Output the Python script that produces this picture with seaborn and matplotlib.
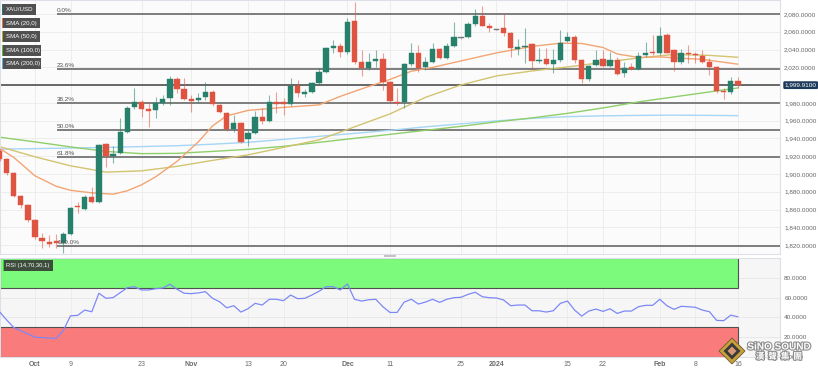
import numpy as np
import pandas as pd
import matplotlib
matplotlib.use("Agg")
import matplotlib.pyplot as plt
import seaborn as sns
from matplotlib.patches import Rectangle, Polygon
import matplotlib.transforms as mtransforms
import matplotlib.patheffects as pe
from matplotlib.ticker import FuncFormatter

sns.set_theme(style="white")
plt.rcParams['font.family'] = ['Liberation Sans', 'DejaVu Sans']

# ---------------- data ----------------
dates = pd.bdate_range("2023-09-25", "2024-02-16")  # 105 weekdays

opens = [1926.3, 1916.7, 1900.9, 1875.4, 1865.0, 1848.5, 1827.9, 1823.7, 1824.1, 1822.9,
         1832.7, 1864.5, 1860.8, 1874.6, 1869.0, 1933.5, 1920.4, 1923.4, 1947.7, 1975.8,
         1981.4, 1973.2, 1972.1, 1980.3, 1985.2, 2006.6, 1995.4, 1984.5, 1983.4, 1986.4,
         1992.7, 1977.7, 1969.1, 1950.4, 1957.8, 1939.2, 1946.6, 1964.6, 1960.1, 1981.1,
         1980.7, 1978.5, 1999.1, 1989.7, 1992.3, 2002.8, 2015.1, 2041.4, 2044.4, 2036.9,
         2072.5, 2026.4, 2019.6, 2027.2, 2029.1, 2003.9, 1981.4, 1980.7, 2023.8, 2036.5,
         2020.8, 2026.4, 2040.3, 2030.2, 2044.4, 2053.0, 2054.5, 2068.8, 2078.1, 2066.9,
         2062.5, 2063.9, 2058.3, 2041.0, 2042.9, 2045.9, 2026.8, 2029.1, 2024.2, 2028.0,
         2049.7, 2054.5, 2028.3, 2006.6, 2022.3, 2029.8, 2021.6, 2028.3, 2013.4, 2020.1,
         2018.5, 2033.6, 2036.9, 2035.8, 2056.4, 2039.5, 2025.7, 2036.5, 2035.4, 2033.1,
         2025.7, 2020.8, 1993.5, 1992.0, 2004.7]
highs = [1929.4, 1918.2, 1902.0, 1876.6, 1866.4, 1849.6, 1833.5, 1831.6, 1832.4, 1835.3,
         1863.4, 1869.0, 1876.6, 1885.9, 1934.0, 1935.3, 1931.6, 1962.8, 1977.0, 1996.5,
         1983.0, 1981.4, 1987.1, 1989.0, 2010.3, 2009.5, 2007.7, 1989.0, 1990.9, 2003.9,
         1994.0, 1979.0, 1970.0, 1966.5, 1959.0, 1949.6, 1971.3, 1974.0, 1989.0, 1992.7,
         1985.2, 2007.7, 2005.8, 1995.7, 2004.0, 2019.0, 2043.0, 2050.8, 2047.1, 2075.2,
         2094.0, 2039.5, 2035.8, 2039.5, 2035.8, 2005.0, 1996.5, 2025.0, 2047.7, 2045.2,
         2032.0, 2047.1, 2042.0, 2047.1, 2070.7, 2054.0, 2071.4, 2085.3, 2089.3, 2069.5,
         2063.5, 2080.0, 2060.0, 2051.6, 2063.9, 2047.0, 2041.4, 2041.4, 2040.3, 2062.0,
         2060.1, 2056.0, 2029.0, 2023.0, 2039.5, 2039.5, 2037.6, 2032.0, 2026.4, 2025.3,
         2037.6, 2048.9, 2056.4, 2065.7, 2058.3, 2041.0, 2040.3, 2045.2, 2037.0, 2039.5,
         2030.2, 2022.0, 1997.2, 2008.9, 2008.9]
lows = [1914.8, 1899.0, 1874.0, 1861.9, 1846.2, 1827.1, 1816.6, 1818.4, 1817.3, 1811.0,
        1831.0, 1856.0, 1859.0, 1867.0, 1867.0, 1908.4, 1912.9, 1922.0, 1946.0, 1973.0,
        1964.6, 1953.3, 1962.8, 1978.0, 1977.7, 1990.9, 1983.4, 1970.2, 1979.6, 1983.4,
        1977.0, 1968.4, 1948.0, 1947.7, 1935.3, 1932.0, 1945.0, 1956.4, 1958.0, 1968.4,
        1966.5, 1977.0, 1987.1, 1986.7, 1991.0, 2001.0, 2014.0, 2035.8, 2032.0, 2035.0,
        2023.8, 2010.3, 2017.1, 2020.8, 1994.6, 1979.6, 1977.7, 1974.0, 2022.0, 2015.1,
        2017.1, 2025.0, 2029.0, 2029.0, 2043.0, 2052.0, 2053.0, 2067.0, 2066.0, 2060.1,
        2061.5, 2055.3, 2032.0, 2033.9, 2025.3, 2018.2, 2024.6, 2022.7, 2014.0, 2026.0,
        2048.0, 2024.6, 2002.1, 2005.0, 2021.0, 2020.8, 2020.0, 2011.4, 2009.5, 2017.1,
        2017.0, 2032.0, 2033.9, 2034.0, 2035.8, 2016.3, 2024.0, 2024.6, 2024.6, 2024.6,
        2011.4, 1990.9, 1984.5, 1990.0, 1996.5]
closes = [1916.7, 1900.9, 1875.4, 1865.0, 1848.5, 1828.6, 1824.1, 1821.8, 1822.3, 1832.7,
          1861.6, 1862.7, 1874.6, 1869.0, 1932.8, 1920.4, 1922.6, 1947.7, 1974.7, 1981.4,
          1973.2, 1971.3, 1979.6, 1984.8, 2006.6, 1995.4, 1984.5, 1982.6, 1985.9, 1992.7,
          1978.5, 1969.5, 1950.4, 1957.8, 1936.5, 1946.6, 1964.6, 1960.1, 1980.7, 1978.8,
          1978.5, 1999.1, 1990.9, 1992.3, 2002.8, 2015.1, 2041.4, 2044.4, 2036.9, 2070.7,
          2026.4, 2019.6, 2026.4, 2029.1, 2003.9, 1982.2, 1980.0, 2023.8, 2036.5, 2019.0,
          2026.4, 2040.3, 2030.2, 2044.4, 2053.8, 2053.0, 2068.8, 2078.1, 2066.9, 2063.9,
          2062.5, 2058.3, 2041.4, 2043.2, 2044.0, 2027.5, 2028.3, 2024.2, 2028.0, 2047.7,
          2054.5, 2028.3, 2006.6, 2021.9, 2028.0, 2021.6, 2028.3, 2012.6, 2019.6, 2018.5,
          2032.8, 2036.5, 2035.8, 2055.3, 2036.5, 2025.7, 2035.8, 2034.7, 2033.9, 2025.7,
          2020.8, 1993.5, 1992.0, 2004.7, 1999.91]

rsi = [45.7, 37.5, 29.8, 26.5, 23.2, 20.0, 19.6, 19.2, 18.7, 27.0,
       41.6, 42.0, 47.4, 45.7, 64.4, 59.3, 60.0, 65.0, 70.0, 71.0,
       67.7, 67.7, 69.0, 69.7, 73.5, 68.4, 64.4, 64.0, 64.7, 66.0,
       59.3, 55.8, 49.7, 51.8, 45.4, 48.7, 54.2, 52.5, 58.3, 58.3,
       56.9, 62.6, 58.9, 59.3, 62.6, 66.4, 71.0, 71.0, 67.7, 73.8,
       58.3, 56.5, 57.8, 58.3, 50.8, 45.0, 45.0, 55.5, 58.3, 53.5,
       55.5, 58.3, 55.2, 58.3, 59.9, 60.3, 63.3, 65.4, 60.9, 59.9,
       59.6, 57.6, 51.8, 52.5, 52.5, 46.7, 46.7, 45.4, 46.7, 54.2,
       56.5, 47.4, 41.3, 46.4, 48.4, 46.1, 48.7, 44.0, 46.4, 46.4,
       50.8, 52.2, 52.2, 58.3, 51.8, 48.1, 51.2, 50.8, 50.2, 47.4,
       45.7, 37.0, 36.7, 42.3, 40.6]

# moving averages (bar number -> value)
sma20_bar = [0, 2, 5, 8, 10, 13, 16, 18, 20, 22, 25, 28, 30, 32, 35, 40, 45, 48, 51, 55,
             58, 61, 65, 70, 75, 79, 82, 85, 87, 90, 93, 96, 99, 102, 104]
sma20_val = [1928.8, 1918.7, 1897.9, 1886.1, 1881.6, 1878.8, 1877.3, 1881.1, 1887.8, 1896.8,
             1914.2, 1936.1, 1954.1, 1965.4, 1971.5, 1974.9, 1977.7, 1987.3, 1995.7, 2006.4,
             2015.6, 2019.9, 2027.2, 2036.2, 2043.5, 2047.1, 2046.8, 2042.3, 2035.0, 2031.1,
             2031.7, 2030.2, 2028.9, 2025.7, 2023.5]
sma_bar = [0, 5, 10, 15, 20, 25, 30, 35, 40, 45, 50, 55, 60, 65, 70, 75, 80, 85, 90, 95, 100, 104]
sma50_val = [1930.8, 1919.3, 1909.2, 1902.1, 1903.5, 1908.6, 1915.3, 1921.5, 1929.9, 1938.4,
             1953.0, 1967.6, 1986.2, 2000.2, 2010.3, 2015.9, 2020.4, 2025.5, 2030.5, 2034.5,
             2033.4, 2031.3]
sma100_val = [1941.4, 1936.1, 1930.5, 1925.4, 1922.9, 1923.2, 1925.4, 1927.7, 1931.1, 1935.6,
              1940.1, 1944.6, 1949.1, 1953.6, 1958.6, 1963.1, 1968.2, 1974.3, 1981.1, 1986.7,
              1992.3, 1996.8]
sma200_val = [1927.9, 1928.5, 1929.2, 1929.9, 1930.8, 1931.8, 1933.5, 1935.6, 1938.9, 1942.3,
              1945.7, 1949.1, 1953.0, 1956.4, 1959.7, 1962.5, 1964.5, 1965.4, 1965.9, 1966.2,
              1965.9, 1965.6]

fib_high, fib_low = 2080.0, 1819.0
fib_ratios = [0.0, 23.6, 38.2, 50.0, 61.8, 100.0]
last_price = 1999.91

tick_dates = ["2023-10-02", "2023-10-09", "2023-10-23", "2023-11-01", "2023-11-13",
              "2023-11-20", "2023-12-01", "2023-12-11", "2023-12-25", "2024-01-01",
              "2024-01-15", "2024-01-22", "2024-02-01", "2024-02-08", "2024-02-16"]
tick_labels = ["Oct", "9", "23", "Nov", "13", "20", "Dec", "11", "25", "2024",
               "15", "22", "Feb", "8", "16"]
bold_labels = {"Oct", "Nov", "Dec", "2024", "Feb"}
price_ticks = [1820, 1840, 1860, 1880, 1900, 1920, 1940, 1960, 1980, 2020, 2040, 2060, 2080]
rsi_ticks = [0, 20, 40, 60, 80]

legend_items = [("XAU/USD", "#1f7a68"), ("SMA (20,0)", "#e8743b"), ("SMA (50,0)", "#b8a52c"),
                ("SMA (100,0)", "#5fb830"), ("SMA (200,0)", "#5ab4ea")]

# ---------------- figure ----------------
W, H = 818, 373
fig = plt.figure(figsize=(W / 100, H / 100), dpi=100)
fig.patch.set_facecolor("white")

def fx(x):
    return x / W

def fy(y):
    return 1 - y / H

ax = fig.add_axes([0, fy(254), 780 / W, 254 / H])
axr = fig.add_axes([0, fy(357), 780 / W, 99 / H])

pos = np.arange(len(dates))
o = np.array(opens); c = np.array(closes); hi = np.array(highs); lo = np.array(lows)
xlim = (0.07, 109.93)

GREEN = "#27806a"
RED = "#de5441"
GRAY = "#777777"
cols = np.where(c > o, GREEN, np.where(c < o, RED, GRAY))

tick_pos = [int(np.where(dates == pd.Timestamp(d))[0][0]) for d in tick_dates]

for a, fc in ((ax, "#fbfbfb"), (axr, "#f6f6f6")):
    a.set_facecolor(fc)
    for s in a.spines.values():
        s.set_color("#dde1e7")
        s.set_linewidth(0.8)
    a.set_xlim(*xlim)
    for p in tick_pos:
        a.axvline(p, color="#ebebeb", lw=0.6, zorder=0)

ax.set_ylim(1810.0, 2095.7)
for v in range(1820, 2081, 20):
    ax.axhline(v, color="#ebebeb", lw=0.6, zorder=0)

# fibonacci lines
fib_x0 = 8.1
for r in fib_ratios:
    lvl = fib_high - r / 100 * (fib_high - fib_low)
    ax.hlines(lvl, fib_x0, xlim[1], color="#7d7d7d", lw=1.4, zorder=1)
    ax.text(fib_x0, lvl + 1.2, f"{r:.1f}%", fontsize=4.6, color="#555555",
            ha="left", va="bottom", zorder=6)

ax.axhline(last_price, color="#5c5c5c", lw=1.3, zorder=1)

# SMA lines
sns.lineplot(x=sma_bar, y=sma200_val, ax=ax, color="#a6d6f5", lw=1.0, zorder=2)
sns.lineplot(x=sma_bar, y=sma100_val, ax=ax, color="#8fcf6a", lw=1.0, zorder=2)
sns.lineplot(x=sma_bar, y=sma50_val, ax=ax, color="#d2c470", lw=1.0, zorder=2)
sns.lineplot(x=sma20_bar, y=sma20_val, ax=ax, color="#f3a573", lw=1.0, zorder=2)

# candlesticks
ax.vlines(pos, lo, hi, colors=cols, lw=0.8, alpha=0.55, zorder=3)
body = np.maximum(np.abs(c - o), 0.6)
ax.bar(pos, body, bottom=np.minimum(o, c), width=0.74, color=cols, edgecolor=cols,
       lw=0.3, zorder=4)

ax.yaxis.tick_right()
ax.set_yticks(price_ticks)
ax.yaxis.set_major_formatter(FuncFormatter(lambda v, p: f"{v:,.4f}"))
ax.tick_params(axis="y", length=0, pad=3, labelsize=4.6, labelcolor="#666666")
ax.tick_params(axis="x", length=0, labelbottom=False)
ax.set_xticks(tick_pos)
ax.set_xlabel(""); ax.set_ylabel("")

trans = mtransforms.blended_transform_factory(ax.transAxes, ax.transData)
ax.text(1.006, last_price, f"{last_price:,.4f}", transform=trans, fontsize=4.6,
        color="white", ha="left", va="center", zorder=10, clip_on=False,
        bbox=dict(boxstyle="round,pad=0.22", fc="#1d3a5c", ec="none"))

# ---------------- RSI ----------------
axr.set_ylim(0, 100)
for v in (20, 40, 60, 80):
    axr.axhline(v, color="#e6e6e6", lw=0.6, zorder=0)
axr.add_patch(Rectangle((xlim[0], 70), 104 - xlim[0], 30, fc="#7bfa7b", ec="#505050",
                        lw=0.8, zorder=1))
axr.add_patch(Rectangle((xlim[0], 0), 104 - xlim[0], 30, fc="#fa7b7b", ec="#505050",
                        lw=0.8, zorder=1))
sns.lineplot(x=pos, y=rsi, ax=axr, color="#7d88f7", lw=0.9, zorder=3)
axr.yaxis.tick_right()
axr.set_yticks(rsi_ticks)
axr.yaxis.set_major_formatter(FuncFormatter(lambda v, p: f"{v:.4f}"))
axr.tick_params(axis="y", length=0, pad=3, labelsize=4.6, labelcolor="#666666")
axr.set_xticks(tick_pos)
axr.set_xticklabels(tick_labels)
axr.tick_params(axis="x", length=0, pad=3, labelsize=5, labelcolor="#6a6a6a")
for lbl in axr.get_xticklabels():
    if lbl.get_text() in bold_labels:
        lbl.set_fontweight("bold")
axr.set_xlabel(""); axr.set_ylabel("")

# separator handle
fig.add_artist(Rectangle((fx(384), fy(257)), 12 / W, 2.3 / H, transform=fig.transFigure,
                         fc="#c4c4c4", ec="none"))

# legend boxes
for i, (name, col) in enumerate(legend_items):
    y0 = 4 + 13.6 * i
    wbox = 34 + 1.1 * len(name) - 7
    fig.add_artist(Rectangle((fx(1.7), fy(y0 + 10.7)), wbox / W, 10.7 / H,
                             transform=fig.transFigure, fc="#505050", ec="none", zorder=20))
    fig.add_artist(Rectangle((fx(1.7), fy(y0 + 10.7)), 1.6 / W, 10.7 / H,
                             transform=fig.transFigure, fc=col, ec="none", zorder=21))
    fig.text(fx(6), fy(y0 + 5.5), name, fontsize=4.4, color="white", ha="left",
             va="center", zorder=22)

# RSI label
fig.add_artist(Rectangle((fx(2.7), fy(270.7)), 50 / W, 10.7 / H, transform=fig.transFigure,
                         fc="#3c4d3c", ec="none", zorder=20))
fig.add_artist(Rectangle((fx(2.7), fy(270.7)), 1.6 / W, 10.7 / H, transform=fig.transFigure,
                         fc="#34d634", ec="none", zorder=21))
fig.text(fx(6.5), fy(265.4), "RSI (14,70,30,1)", fontsize=4.2, color="white", ha="left",
         va="center", zorder=22)

# watermark
cx, cy, r = 732, 351, 13
fig.add_artist(Polygon([(fx(cx), fy(cy - r)), (fx(cx + r), fy(cy)), (fx(cx), fy(cy + r)),
                        (fx(cx - r), fy(cy))], closed=True, transform=fig.transFigure,
                       fc="#c8a13c", ec="#6a5a2a", lw=0.6, zorder=30))
r2 = 8.5
fig.add_artist(Polygon([(fx(cx), fy(cy - r2)), (fx(cx + r2), fy(cy)), (fx(cx), fy(cy + r2)),
                        (fx(cx - r2), fy(cy))], closed=True, transform=fig.transFigure,
                       fc="#3a3a3a", ec="none", zorder=31))
r3 = 4.5
fig.add_artist(Polygon([(fx(cx), fy(cy - r3)), (fx(cx + r3), fy(cy)), (fx(cx), fy(cy + r3)),
                        (fx(cx - r3), fy(cy))], closed=True, transform=fig.transFigure,
                       fc="#d99a7a", ec="none", zorder=32))
stroke = [pe.withStroke(linewidth=1.6, foreground="#8c8c8c")]
fig.text(fx(779), fy(346.5), "SiNO SOUND", fontsize=7.2, fontweight="bold", color="white",
         ha="center", va="center", zorder=33, path_effects=stroke)
fig.text(fx(779), fy(356.5), "漢  聲  集  團", fontsize=6.2, color="white",
         family=["Noto Sans CJK TC", "DejaVu Sans"], fontweight="bold",
         ha="center", va="center", zorder=33, path_effects=stroke)

fig.savefig("out.png", dpi=100)
